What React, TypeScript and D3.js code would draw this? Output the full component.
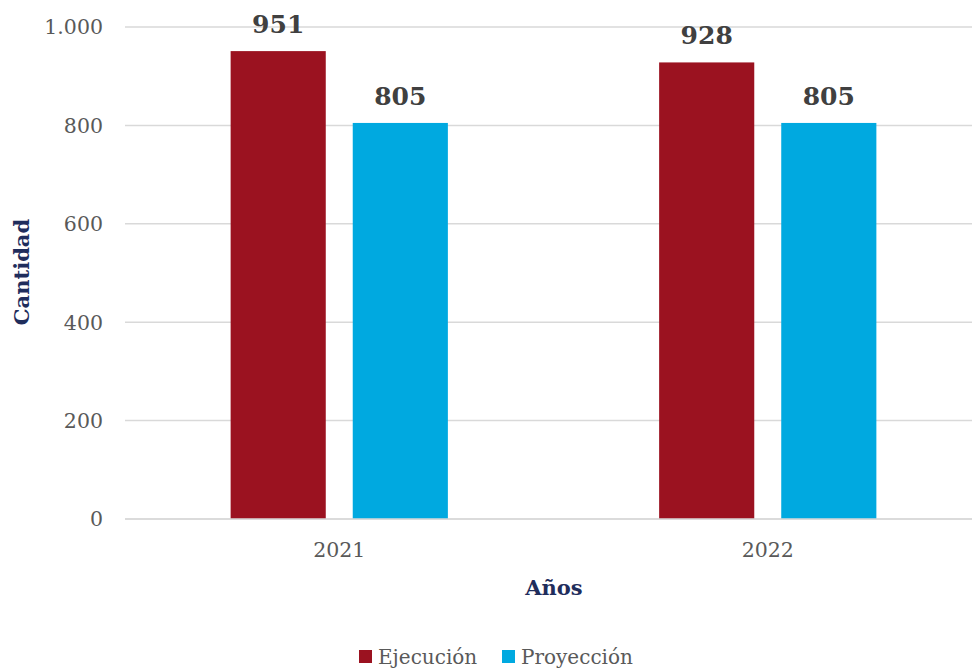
import React from "react";
import * as d3 from "d3";

const years = ["2021", "2022"];
const seriesNames = ["Ejecución", "Proyección"];
const ejecucion = [951, 928];
const proyeccion = [805, 805];
const yTicks = [0, 200, 400, 600, 800, 1000];
const yTickLabels = ["0", "200", "400", "600", "800", "1.000"];
const colors = ["#9B1220", "#00A9E0"];

const W = 972;
const H = 669;
const FONT = "'DejaVu Serif', serif";

export default function App() {
  const x0 = d3.scaleBand<string>().domain(years).range([125, 982]).paddingInner(0).paddingOuter(0);
  const x1 = d3
    .scaleBand<string>()
    .domain(seriesNames)
    .range([0, x0.bandwidth()])
    .paddingInner(0.221)
    .paddingOuter(0.865);
  const y = d3.scaleLinear().domain([0, 1000]).range([519, 27]);
  const values = [ejecucion, proyeccion];

  return (
    <svg
      width={W}
      height={H}
      style={{ position: "absolute", left: 0, top: 0, background: "#fff" }}
      fontFamily={FONT}
    >
      {yTicks.map((t, i) => (
        <g key={t}>
          <line x1={125} x2={W} y1={y(t)} y2={y(t)} stroke="#D9D9D9" strokeWidth={1.5} />
          <text x={103} y={y(t)} dy="0.36em" textAnchor="end" fontSize={20.5} fill="#595959">
            {yTickLabels[i]}
          </text>
        </g>
      ))}
      {years.map((yr, i) => (
        <g key={yr} transform={`translate(${x0(yr)},0)`}>
          {seriesNames.map((s, j) => {
            const v = values[j][i];
            const bx = x1(s)!;
            return (
              <g key={s}>
                <rect x={bx} y={y(v)} width={x1.bandwidth()} height={y(0) - y(v)} fill={colors[j]} />
                <text
                  x={bx + x1.bandwidth() / 2}
                  y={y(v) - 18}
                  textAnchor="middle"
                  fontSize={25}
                  fontWeight="bold"
                  fill="#404040"
                >
                  {v}
                </text>
              </g>
            );
          })}
          <text x={x0.bandwidth() / 2} y={557} textAnchor="middle" fontSize={20.5} fill="#595959">
            {yr}
          </text>
        </g>
      ))}
      <line x1={125} x2={W} y1={y(0)} y2={y(0)} stroke="#D9D9D9" strokeWidth={1.5} />
      <text
        transform="translate(29,272) rotate(-90)"
        textAnchor="middle"
        fontSize={21}
        fontWeight="bold"
        fill="#1F2D5C"
      >
        Cantidad
      </text>
      <text x={554} y={595} textAnchor="middle" fontSize={21} fontWeight="bold" fill="#1F2D5C">
        Años
      </text>
      {seriesNames.map((s, j) => {
        const lx = j === 0 ? 359 : 502;
        return (
          <g key={s}>
            <rect x={lx} y={650} width={13} height={13} fill={colors[j]} />
            <text x={lx + 19} y={664} fontSize={20} fill="#595959">
              {s}
            </text>
          </g>
        );
      })}
    </svg>
  );
}
